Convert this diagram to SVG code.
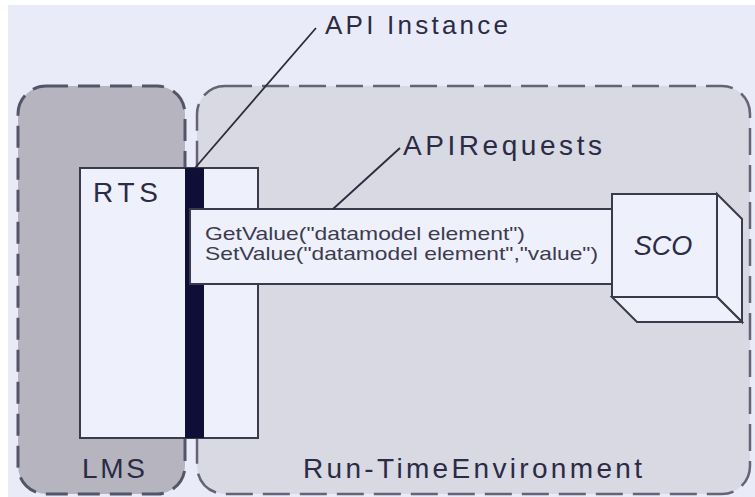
<svg xmlns="http://www.w3.org/2000/svg" width="755" height="497" viewBox="0 0 755 497">
<style>
.lbl{font-family:"Liberation Sans",Arial,sans-serif;fill:#2b2b45}
.code{font-family:"Liberation Sans",Arial,sans-serif;fill:#3c3c4e;font-size:19px}
.box{fill:#eef0fb;stroke:#3a3a4c;stroke-width:2}
.lead{stroke:#2b2b3e;stroke-width:1.8;fill:none}
</style>
<rect x="0" y="0" width="755" height="497" fill="#ffffff"/>
<rect x="8" y="5" width="747" height="492" fill="#e9ecf8"/>
<g id="lms">
<rect x="18" y="86" width="167" height="408" rx="28" fill="#b6b4bf" stroke="#55556a" stroke-width="3" stroke-dasharray="22 10"/>
<text class="lbl" x="82" y="478" font-size="28" textLength="63" lengthAdjust="spacing">LMS</text>
</g>
<g id="rte">
<rect x="197" y="86" width="553" height="408" rx="28" fill="#d8d9e3" stroke="#646476" stroke-width="2.5" stroke-dasharray="27 10"/>
<text class="lbl" x="303" y="478" font-size="28" textLength="339" lengthAdjust="spacing">Run-TimeEnvironment</text>
</g>
<g id="rts">
<rect class="box" x="80" y="168" width="178" height="270"/>
<text class="lbl" x="93" y="202" font-size="28" textLength="65" lengthAdjust="spacing">RTS</text>
</g>
<g id="api-instance-bar">
<rect x="185" y="168" width="19" height="270" fill="#0e0e36"/>
</g>
<g id="api-requests">
<rect class="box" x="190" y="209" width="422" height="75"/>
<text class="code" x="205" y="240" textLength="320" lengthAdjust="spacingAndGlyphs">GetValue("datamodel element")</text>
<text class="code" x="205" y="260" textLength="393" lengthAdjust="spacingAndGlyphs">SetValue("datamodel element","value")</text>
</g>
<g id="sco">
<polygon class="box" points="717,194 742,219 742,322 717,297"/>
<polygon class="box" points="612,297 717,297 742,322 637,322"/>
<rect class="box" x="612" y="194" width="105" height="103"/>
<text class="lbl" x="663" y="255" font-size="27" font-style="italic" text-anchor="middle">SCO</text>
</g>
<g id="connectors">
<line class="lead" x1="195" y1="168" x2="316" y2="28"/>
<line class="lead" x1="333" y1="209" x2="400" y2="148"/>
</g>
<g id="labels">
<text class="lbl" x="325" y="34" font-size="26" textLength="183" lengthAdjust="spacing">API Instance</text>
<text class="lbl" x="403" y="155" font-size="28" textLength="199" lengthAdjust="spacing">APIRequests</text>
</g>
</svg>
